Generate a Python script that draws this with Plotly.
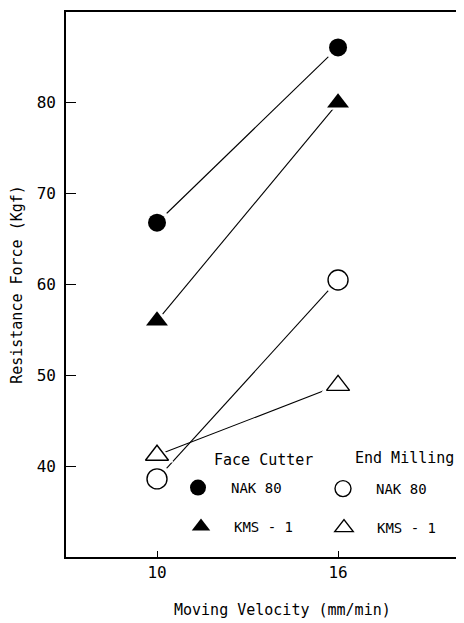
import plotly.graph_objects as go

# ---- data ----
velocity = [10, 16]
face_nak80 = [66.8, 86.1]
face_kms1 = [56.0, 80.0]
end_nak80 = [38.6, 60.5]
end_kms1 = [41.2, 48.9]
x_ticks = [10, 16]
y_ticks = [40, 50, 60, 70, 80]

FONT = "DejaVu Sans Mono"
BODY = 8  # default page body margin in the written html
# the original frame continues past the cropped right edge of the picture
W, H = 480, 623 - BODY
PLOT_BOTTOM = 557  # window pixel of the x axis line
ML, MR, MT = 66 - BODY, 0, 12 - BODY
MB = H - (PLOT_BOTTOM - BODY)
PW, PH = W - ML - MR, H - MT - MB


def px(xp):
    return (xp - BODY - ML) / PW


def py(yp):
    return (H - MB - (yp - BODY)) / PH


fig = go.Figure()

series = [
    ("NAK 80", face_nak80, dict(symbol="circle", size=18, color="black"), "legend"),
    ("KMS - 1", face_kms1, dict(symbol="triangle-up", size=19, color="black"), "legend3"),
    ("NAK 80", end_nak80, dict(symbol="circle", size=20, color="white",
                              line=dict(color="black", width=1.4)), "legend2"),
    ("KMS - 1", end_kms1, dict(symbol="triangle-up", size=20, color="white",
                               line=dict(color="black", width=1.4)), "legend4"),
]

# connecting lines
for name, vals, mk, lg in series:
    fig.add_trace(go.Scatter(x=velocity, y=vals, mode="lines",
                             line=dict(color="black", width=1.1),
                             showlegend=False, hoverinfo="skip"))
# white halos so the lines stop short of the symbols, as in the original
for name, vals, mk, lg in series:
    fig.add_trace(go.Scatter(x=velocity, y=vals, mode="markers",
                             marker=dict(symbol=mk["symbol"], size=mk["size"] + 9,
                                         color="white", line=dict(width=0)),
                             showlegend=False, hoverinfo="skip"))
# symbols
for name, vals, mk, lg in series:
    fig.add_trace(go.Scatter(x=velocity, y=vals, mode="markers", name=name,
                             marker=mk, legend=lg, showlegend=True))

leg_common = dict(bgcolor="rgba(0,0,0,0)", borderwidth=0, itemwidth=56,
                  font=dict(family=FONT, size=14, color="black"),
                  xanchor="left", yanchor="middle", itemsizing="trace")

ITEM_OFF = 5 + 28
fig.update_layout(
    legend=dict(x=px(198 - ITEM_OFF), y=py(488), **leg_common),
    legend2=dict(x=px(343 - ITEM_OFF), y=py(489), **leg_common),
    legend3=dict(x=px(201 - ITEM_OFF), y=py(527), **leg_common),
    legend4=dict(x=px(344 - ITEM_OFF), y=py(528), **leg_common),
)

fig.add_annotation(text="Face Cutter", xref="paper", yref="paper",
                   x=px(212), y=py(460), xanchor="left", yanchor="middle",
                   showarrow=False, font=dict(family=FONT, size=15, color="black"))
fig.add_annotation(text="End Milling", xref="paper", yref="paper",
                   x=px(353), y=py(458), xanchor="left", yanchor="middle",
                   showarrow=False, font=dict(family=FONT, size=15, color="black"))
fig.add_annotation(text="Moving Velocity (mm/min)", xref="paper", yref="paper",
                   x=px(282), y=py(610), xanchor="center", yanchor="middle",
                   showarrow=False, font=dict(family=FONT, size=15, color="black"))

fig.update_layout(
    width=W, height=H,
    margin=dict(l=ML, r=MR, t=MT, b=MB),
    paper_bgcolor="white", plot_bgcolor="white",
    font=dict(family=FONT, size=15, color="black"),
    xaxis=dict(range=[6.984, 20.97], tickvals=x_ticks, ticks="inside", ticklen=6,
               tickwidth=1.3, tickcolor="black", showline=True, linecolor="black",
               linewidth=1.6, mirror=True, showgrid=False, zeroline=False,
               tickfont=dict(family=FONT, size=16)),
    yaxis=dict(range=[30, 90], tickvals=y_ticks, ticks="inside", ticklen=10,
               tickwidth=1.3, tickcolor="black", showline=True, linecolor="black",
               linewidth=1.6, showgrid=False, zeroline=False, ticklabelstandoff=5,
               tickfont=dict(family=FONT, size=16),
               title=dict(text="Resistance Force (Kgf)", standoff=12,
                          font=dict(family=FONT, size=15))),
)

fig.write_html("out.html")
